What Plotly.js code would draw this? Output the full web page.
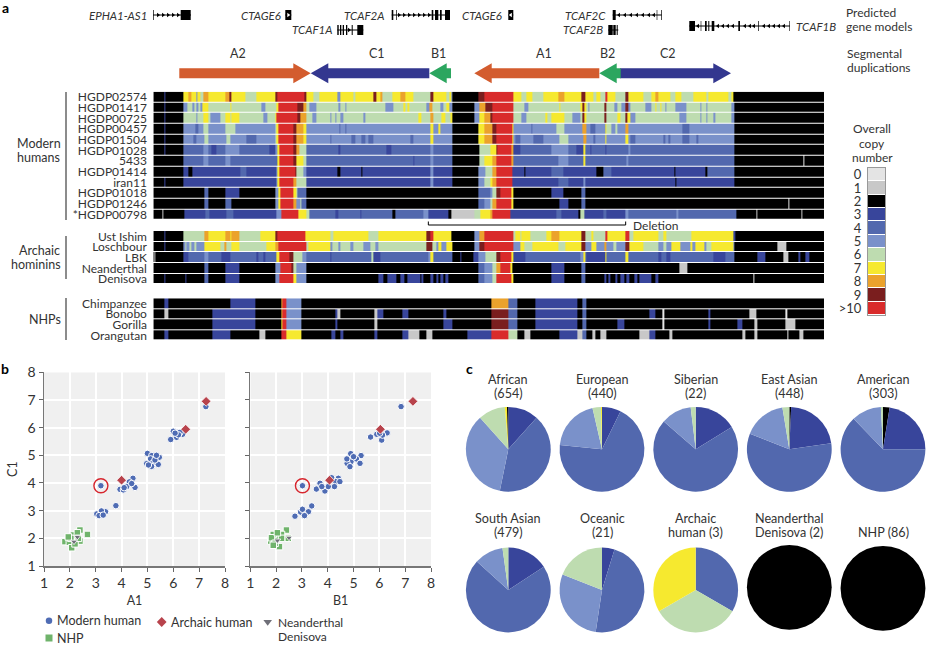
<!DOCTYPE html>
<html><head><meta charset="utf-8"><script src="https://cdn.plot.ly/plotly-3.0.1.min.js"></script>
<style>html,body{margin:0;padding:0;background:#fff}</style></head><body><div id="chart" style="width:926px;height:646px"></div>
<script>
const FONT='Lato, sans-serif', INK='#333333';
const palette=['#e4e4e4','#c8c8c8','#000000','#38459b','#5268ae','#7a91ca','#bedcb0','#f6e92f','#eba22c','#7a1e1e','#d92b2b'];
const copyLabels=['0','1','2','3','4','5','6','7','8','9','>10'];
const modernNames=['HGDP02574','HGDP01417','HGDP00725','HGDP00457','HGDP01504','HGDP01028','5433','HGDP01414','iran11','HGDP01018','HGDP01246','*HGDP00798'];
const archaicNames=['Ust Ishim','Loschbour','LBK','Neanderthal','Denisova'];
const nhpNames=['Chimpanzee','Bonobo','Gorilla','Orangutan'];
// copy-number runs: value, end position (left half of the locus, then right half)
const modernL=[
[2,492,3,495,2,550,7,565,8,575,7,588,5,592,7,602,6,610,8,625,7,675,8,688,9,693,7,737,6,770,7,825,9,832,10,912,9,918,7,940,6,957,7,1013,5,1020,7,1060,6,1065,7,1120,9,1128,7,1140,8,1148,6,1178,7,1200,8,1215,7,1240,6,1290,9,1300,7,1340,6,1348,7,1353,5,1356],
[2,492,3,495,2,550,5,562,6,578,5,583,6,590,5,595,6,600,5,607,7,625,6,690,7,693,6,785,5,795,6,828,7,835,10,893,9,910,8,918,6,928,5,950,6,1015,5,1020,6,1035,5,1038,6,1155,5,1180,6,1210,7,1215,6,1222,7,1227,6,1280,5,1288,8,1298,6,1320,5,1330,6,1340,7,1348,5,1356],
[2,492,3,495,2,550,6,590,5,593,6,610,7,625,6,632,5,660,6,675,7,690,6,693,7,718,6,790,5,802,6,825,7,830,10,893,9,900,8,918,6,938,5,950,6,990,5,993,6,1005,5,1008,6,1020,5,1030,6,1090,5,1095,6,1255,7,1265,6,1290,8,1300,6,1325,7,1337,6,1350,7,1356],
[2,492,3,495,2,550,5,585,4,595,5,610,6,625,5,675,6,705,5,825,6,830,7,835,10,880,9,890,8,910,7,918,5,1018,4,1022,5,1035,4,1038,5,1290,7,1300,5,1315,7,1320,5,1356],
[2,492,3,495,2,550,5,580,4,590,5,612,6,625,5,680,6,692,5,740,4,768,5,825,6,830,7,835,10,880,9,890,8,910,7,918,5,990,4,993,5,1055,4,1065,5,1085,4,1095,5,1105,4,1120,5,1230,4,1240,5,1290,7,1300,5,1356],
[2,492,3,495,2,550,4,610,5,625,4,635,3,650,4,675,5,718,4,808,3,825,5,832,7,838,10,880,9,888,8,898,6,918,4,1015,3,1022,4,1160,3,1175,4,1290,5,1300,4,1356],
[2,550,4,610,5,625,4,675,5,692,4,832,7,838,10,880,9,890,7,910,6,918,4,1240,3,1243,4,1290,5,1300,4,1356],
[2,550,3,565,2,577,3,720,4,740,3,830,5,833,7,838,10,885,9,890,6,910,5,918,3,1012,2,1020,3,1085,2,1088,3,1290,5,1300,3,1356],
[2,492,3,495,2,550,3,830,5,833,7,838,10,880,8,890,6,918,3,1290,5,1300,3,1356],
[2,612,4,625,2,677,3,718,2,825,5,835,7,840,10,880,7,888,6,893,4,918,2,1365],
[2,612,4,625,2,677,4,695,2,825,5,835,7,840,10,880,8,888,5,900,6,905,4,918,2,1356],
[2,488,1,491,2,552,3,615,4,628,3,680,4,700,3,830,5,843,10,895,7,918,6,928,4,1005,3,1015,4,1080,3,1085,4,1178,2,1185,4,1270,5,1285,3,1345,2,1355,1,1356]];
const modernR=[
[2,85,9,102,10,190,7,215,6,230,7,248,6,280,7,325,8,342,7,395,9,407,7,430,6,440,7,450,6,465,10,471,7,495,6,525,9,535,7,580,6,605,7,615,8,625,7,660,6,675,7,695,6,730,7,770,6,775,7,835,6,845,7,851,2,1122],
[2,72,5,88,8,105,9,128,10,190,6,222,5,235,6,328,7,331,6,390,7,398,9,404,7,408,6,415,5,419,6,462,9,470,6,492,5,502,6,515,5,525,9,535,5,540,6,585,5,605,6,615,7,618,6,632,7,635,6,647,5,650,6,660,5,662,6,675,5,710,6,752,5,755,6,768,5,771,6,845,5,852,2,1122],
[2,72,5,88,7,102,8,120,9,128,10,190,6,215,5,230,6,287,7,292,6,303,7,342,6,368,5,390,6,398,9,404,7,408,6,462,9,470,6,503,7,510,6,525,9,532,7,540,5,555,6,688,5,710,6,752,5,755,6,768,5,771,6,790,5,797,6,845,5,852,2,1122],
[2,85,7,102,8,128,9,138,10,188,7,190,5,245,4,248,5,318,6,342,5,398,8,408,5,422,4,435,5,465,7,470,6,485,5,495,6,502,5,525,8,535,5,697,4,717,5,852,2,1122],
[2,85,7,102,8,128,9,138,10,188,7,190,5,195,4,210,5,250,4,280,5,327,6,355,5,400,8,408,5,430,4,435,5,465,7,470,5,525,7,535,5,540,4,555,5,640,4,645,5,655,4,660,5,697,4,717,5,740,4,745,5,852,2,1122],
[2,88,6,120,7,138,9,141,10,185,8,190,3,212,4,305,5,355,4,380,3,400,7,406,4,420,3,425,4,465,3,470,4,535,5,540,4,852,2,1122],
[2,88,6,102,7,128,8,138,10,185,8,190,4,325,5,355,4,400,7,406,4,530,5,535,4,852,2,1060,0,1064,2,1122],
[2,85,5,105,6,128,8,138,10,188,3,222,2,225,3,305,4,340,3,440,2,460,4,485,3,672,2,675,3,765,2,772,4,852,2,1122],
[2,36,0,38,2,85,5,102,6,120,7,128,8,138,10,188,3,325,4,355,3,400,5,406,3,675,2,680,3,852,2,1122],
[0,17,2,85,4,120,5,128,6,138,9,150,10,185,7,190,2,305,3,340,2,395,4,405,2,1122],
[2,85,4,102,5,120,6,128,8,138,10,185,7,190,2,327,3,355,2,395,4,405,2,1015,0,1018,2,1122],
[1,72,6,92,7,120,8,128,10,180,3,320,4,335,3,385,2,392,6,403,3,460,4,470,3,525,5,535,4,680,5,685,4,860,2,918,1,922,2,1053,1,1056,2,1122]];
const archaicL=[
[2,492,3,495,2,550,6,612,8,625,7,675,8,692,7,695,8,718,6,780,7,825,9,832,10,915,7,990,6,1000,7,1105,6,1135,7,1280,9,1290,10,1300,7,1355],
[2,492,3,495,2,550,5,555,6,560,5,567,6,575,5,582,6,590,5,612,7,660,6,672,8,680,6,693,7,718,6,800,7,825,8,835,10,918,6,925,7,990,5,997,6,1015,5,1022,6,1050,5,1060,6,1090,5,1110,6,1125,5,1135,6,1280,9,1298,6,1310,5,1316,7,1325,5,1340,7,1356],
[2,462,1,465,2,550,3,565,4,612,5,625,4,663,3,690,4,770,3,775,4,790,3,795,4,830,7,838,10,868,9,880,6,908,5,918,4,990,3,995,4,1115,6,1120,3,1140,4,1285,5,1292,7,1300,4,1356],
[2,612,4,625,2,677,3,718,2,825,5,840,10,875,9,880,6,890,5,918,2,1356],
[2,492,3,495,2,555,3,560,2,612,4,625,2,677,3,718,2,825,5,838,10,880,7,888,5,918,2,1135,3,1150,2,1162,3,1190,2,1200,3,1212,2,1222,3,1260,2,1265,3,1270,2,1290,3,1300,2,1310,3,1315,2,1320,3,1330,2,1335,3,1345,2,1356]];
const archaicR=[
[2,72,5,88,8,102,10,190,6,195,7,210,6,215,7,240,6,288,7,303,8,327,7,395,9,407,6,425,7,430,6,465,10,472,7,525,10,538,6,550,7,625,6,640,7,650,6,725,7,850,3,855,2,1122],
[2,72,5,88,9,102,10,190,5,210,7,222,6,248,7,325,6,345,7,395,9,405,5,425,7,440,5,462,8,470,5,490,6,500,5,525,9,537,7,580,6,625,5,640,6,650,5,665,7,690,5,720,7,728,5,735,7,762,5,770,6,785,7,850,5,853,2,982,1,1008,2,1122],
[2,30,3,35,2,70,3,85,5,105,6,138,9,152,10,185,7,190,3,225,4,390,5,400,7,405,4,410,3,465,7,470,4,525,7,535,4,625,3,635,4,650,3,660,4,790,3,825,4,852,2,922,3,945,2,1000,1,1015,2,1045,3,1050,2,1065,3,1078,2,1122],
[2,85,4,102,5,128,6,138,8,152,10,180,7,188,2,303,3,342,2,395,4,405,2,688,1,712,2,1122],
[2,85,4,102,5,128,6,138,10,185,7,190,2,303,3,342,2,395,4,405,2,462,3,470,2,476,3,482,2,495,3,503,2,510,3,522,2,530,3,538,2,552,3,562,2,568,3,605,2,615,3,625,2,910,0,913,2,1122]];
const nhpL=[
[2,492,3,505,2,692,3,767,2,843,8,848,10,858,5,903,2,1356],
[2,492,1,505,2,637,3,767,2,843,8,848,10,858,5,903,2,1005,3,1012,1,1022,2,1122,1,1133,3,1150,2,1207,3,1226,2,1330,3,1340,2,1356],
[2,637,3,767,2,843,7,848,10,858,5,903,2,1005,3,1012,2,1122,1,1133,2,1330,3,1358],
[2,492,3,505,2,637,3,692,2,777,1,795,2,843,10,858,7,903,2,995,3,1005,2,1022,3,1030,2,1122,3,1132,2,1207,3,1226,1,1258,2,1278,1,1297,2,1356]];
const nhpR=[
[2,125,8,175,4,203,2,255,3,382,2,397,4,410,2,1122],
[2,125,9,175,4,203,2,255,3,382,2,397,4,410,2,598,3,617,2,637,0,642,2,775,3,782,2,898,1,920,2,1007,0,1012,2,1122],
[2,125,9,175,4,203,2,255,3,382,2,397,4,410,2,503,3,523,2,637,0,642,2,775,3,782,2,863,3,877,2,912,1,922,2,1007,1,1035,2,1122],
[2,53,3,125,10,175,6,203,2,223,1,240,2,327,3,382,1,397,4,410,2,427,1,435,2,450,1,468,2,567,1,597,3,617,2,657,1,668,2,878,1,885,2,912,1,922,2,1012,0,1015,2,1048,1,1060,2,1122]];
const locusStart=460, locusEnd=2472, rightShift=1350;
const deletionSpan=[1285,1877];
// gene models
const geneNames=['EPHA1-AS1','CTAGE6','TCAF1A','TCAF2A','CTAGE6','TCAF2C','TCAF2B','TCAF1B'];
const geneLevel=[15,15,30,15,15,15,30,26];
const geneSpans=[[153,191],[285.3,291.3],[337.3,363.3],[391.7,450],[508.3,513.3],[612.7,661.7],[608.3,618.3],[689.3,790]];
const geneExons=[[[153,153.7],[180.7,190.7]],[[285.3,291.3]],[[337.3,338.7],[340,341.3],[342.7,344],[346,347.3],[351.7,352.7],[357.3,363.3]],[[391.7,393.3],[396,396.7],[431.7,433.3],[435,438.3],[440,441.7],[445,450]],[[508.3,513.3]],[[612.7,615.7],[656.7,657.3],[661,661.7]],[[608.3,612.7],[613.3,615.7],[616.7,617.7]],[[689.3,695],[700.7,701.3],[705,706.7],[708.3,709.3],[711.7,714.3],[738.3,740],[758.3,759],[789.4,790]]];
const geneChevrons=[[158,163,168,173,178],[288.3],[349],[399,404,409,414,419,424,429],[510.8],[619,625,631,637,643,649,654],[],[698,718,723,728,733,745,750,754,764,769,774,779,784]];
const geneLeft=[false,false,false,false,true,true,true,true];
const geneChevronColor=['#000','#fff','#000','#000','#fff','#000','#000','#000'];
const geneLabelX=[148.3,281.7,333.3,385,503.3,606.7,604,795];
// segmental duplications
const segNames=['A2','C1','B1','A1','C2','B2'];
const segTail=[179.3,429.3,451,599.3,620,620.7];
const segTip=[310.7,310.7,429.3,474.3,731,599.3];
const segHead=[293.3,328.3,446.7,491.7,713.3,616.7];
const segColors=['#d35c2e','#33378f','#2ba65f','#d35c2e','#33378f','#2ba65f'];
const segLabelX=[237.7,376.7,438.3,544.3,668.3,607.7];
// scatter panels: A1/B1 vs C1
const humanA1=[7.26,6.0,5.9,6.13,6.36,6.26,6.2,6.07,5.0,5.17,5.46,5.12,4.97,5.2,5.42,5.16,5.29,5.04,5.35,4.44,4.3,3.94,4.2,4.07,4.52,4.39,4.1,3.78,3.04,3.38,3.22,3.13,3.29];
const humanC1A=[6.76,5.87,5.57,5.65,5.76,5.83,5.74,5.8,5.07,4.99,4.93,4.87,4.7,4.71,4.67,4.6,4.83,4.65,5.0,4.17,4.04,3.77,3.87,3.75,3.84,3.98,3.83,3.18,2.88,2.96,2.99,2.82,2.84];
const humanB1=[6.84,5.66,6.09,6.3,6.12,5.9,6.01,5.29,5.11,4.9,4.75,4.89,4.86,5.25,5.0,4.74,4.41,4.31,4.15,4.26,3.56,3.83,3.7,3.89,4.02,4.47,3.77,3.38,3.25,2.95,2.73,3.02,3.1];
const humanC1B=[6.76,5.66,5.55,5.81,5.73,5.76,5.8,4.99,4.87,4.77,4.71,5.06,4.59,4.71,4.95,4.87,4.17,4.05,4.19,3.87,3.78,3.81,3.99,3.71,3.87,4.05,3.87,3.17,2.96,2.95,2.8,3.05,2.82];
const ringA1=[3.2], ringB1=[3.02], ringC1=[3.9];
const archaicA1=[7.27,6.48,4.0], archaicB1=[7.3,6.04,4.07], archaicC1=[6.95,5.94,4.1];
const neaA1=[2.29,2.16], neaC1A=[2.05,1.88], neaB1=[2.05,2.5], neaC1B=[1.92,2.02];
const nhpA1=[2.39,2.68,1.81,1.98,2.39,2.07,2.14,2.04,2.29,1.94,2.2,2.33];
const nhpC1A=[2.3,2.14,1.88,1.86,1.9,1.66,2.12,2.0,2.2,2.05,1.8,2.0];
const nhpB1=[2.4,1.79,2.02,2.21,1.89,1.82,2.13,1.96,2.47,2.21,1.89,2.05];
const nhpC1B=[2.3,1.9,2.06,2.14,2.14,2.02,1.7,1.82,2.0,2.0,1.75,2.2];
// pies
const pieTitles=[['African','(654)'],['European','(440)'],['Siberian','(22)'],['East Asian','(448)'],['American','(303)'],['South Asian','(479)'],['Oceanic','(21)'],['Archaic','human (3)'],['Neanderthal','Denisova (2)'],['NHP (86)']];
const pieCopies=[[3,4,5,6,7,2],[3,4,5,6,7],[3,4,5,6],[2,3,4,5,6],[2,3,4,5,6],[3,4,5,6],[3,4,5,6],[4,6,7],[2],[2]];
const pieShares=[[11.6,41.6,35.2,10.3,0.8,0.5],[7.2,69.4,19.8,3.2,0.4],[16.2,70.3,11.7,1.9],[0.7,22,58.3,16.4,2.6],[2.5,22.5,62.8,11.4,0.8],[15.8,70.9,11.1,2.2],[1,10,6,4],[1,1,1],[2],[86]];
const pieCenterX=[508.3,602,695.7,789.3,883,508.3,602,695.7,789.3,883];
const pieCenterY=[449.3,449.3,449.3,449.3,449.3,590,590,590,587.3,588.3];
const pieRadius=42.4;

const W=926,H=646, fx=p=>p/W, fy=p=>1-p/H;
const U=[];for(let i=0;i<palette.length;i++){U.push([i/palette.length,palette[i]],[(i+1)/palette.length,palette[i]]);}
function heat(names,L,R,xa,ya){
  const rows=names.map((_,i)=>{const a=[];let prev=locusStart;
    for(let k=0;k<L[i].length;k+=2){a.push([L[i][k],prev,L[i][k+1]]);prev=L[i][k+1];}
    for(let k=0;k<R[i].length;k+=2){const e=R[i][k+1]+rightShift;if(e>prev){a.push([R[i][k],prev,e]);prev=e;}}
    return a;});
  const s=new Set([locusStart,locusEnd]);rows.forEach(r=>r.forEach(c=>{s.add(c[1]);s.add(c[2]);}));
  const edges=[...s].sort((a,b)=>a-b);
  const z=rows.map(r=>edges.slice(0,-1).map((e,j)=>{const m=(e+edges[j+1])/2;const c=r.find(q=>m>=q[1]&&m<q[2]);return c?c[0]:2;}));
  return {type:'heatmap',x:edges,y:names.map((_,i)=>i),z:z,colorscale:U,zmin:-.5,zmax:10.5,showscale:false,ygap:1,xaxis:xa,yaxis:ya,hoverinfo:'skip'};
}
const data=[heat(modernNames,modernL,modernR,'x','y'),heat(archaicNames,archaicL,archaicR,'x','y2'),heat(nhpNames,nhpL,nhpR,'x','y3')];
// colour key
data.push({type:'heatmap',x:[0,1],y:copyLabels.map((_,i)=>i),z:copyLabels.map((_,i)=>[i]),colorscale:U,zmin:-.5,zmax:10.5,showscale:false,ygap:1,xaxis:'x2',yaxis:'y4',hoverinfo:'skip'});
// gene models
const lx=[],ly=[],ex=[],ey=[];
geneNames.forEach((n,i)=>{const y=geneLevel[i];lx.push(geneSpans[i][0],geneSpans[i][1],null);ly.push(y,y,null);
  geneExons[i].forEach(e=>{ex.push(e[0],e[1],e[1],e[0],e[0],null);ey.push(y-5,y-5,y+5,y+5,y-5,null);});});
data.push({type:'scatter',mode:'lines',x:lx,y:ly,line:{color:'#000',width:1},xaxis:'x3',yaxis:'y5',hoverinfo:'skip'});
data.push({type:'scatter',mode:'lines',x:ex,y:ey,fill:'toself',fillcolor:'#000',line:{width:0,color:'#000'},xaxis:'x3',yaxis:'y5',hoverinfo:'skip'});
geneNames.forEach((n,i)=>{if(geneChevrons[i].length)data.push({type:'scatter',mode:'markers',x:geneChevrons[i],y:geneChevrons[i].map(()=>geneLevel[i]),
  marker:{symbol:geneLeft[i]?'triangle-left':'triangle-right',size:4,color:geneChevronColor[i]},xaxis:'x3',yaxis:'y5',hoverinfo:'skip'});});
// segmental duplication arrows
segNames.forEach((n,i)=>{const c=73.3,t=segTail[i],p=segTip[i],h=segHead[i];
  data.push({type:'scatter',mode:'lines',x:[t,h,h,p,h,h,t,t],y:[c-5,c-5,c-10,c,c+10,c+5,c+5,c-5],fill:'toself',fillcolor:segColors[i],line:{width:0,color:segColors[i]},xaxis:'x3',yaxis:'y5',hoverinfo:'skip'});});
// scatter panels
function pts(x,y,xa,ya,sym,size,col,lw){return {type:'scatter',mode:'markers',x:x,y:y,xaxis:xa,yaxis:ya,hoverinfo:'skip',marker:{symbol:sym,size:size,color:col,line:{color:'#fff',width:lw}}};}
const BLUE='#4f6cb4',GREEN='#6fb36b',RED='#b8434c',GREY='#6f6f78';
[['x4','y6',nhpA1,nhpC1A,neaA1,neaC1A,humanA1,humanC1A,ringA1,archaicA1],['x5','y7',nhpB1,nhpC1B,neaB1,neaC1B,humanB1,humanC1B,ringB1,archaicB1]].forEach(p=>{
  data.push(pts(p[2],p[3],p[0],p[1],'square',6.5,GREEN,1));
  data.push(pts(p[4],p[5],p[0],p[1],'triangle-down',6,GREY,.8));
  data.push(pts(p[6],p[7],p[0],p[1],'circle',6.5,BLUE,1));
  data.push(pts(p[8],ringC1,p[0],p[1],'circle',6.5,BLUE,1));
  data.push({type:'scatter',mode:'markers',x:p[8],y:ringC1,xaxis:p[0],yaxis:p[1],hoverinfo:'skip',marker:{symbol:'circle-open',size:14,color:'#d7262e',line:{width:1.4,color:'#d7262e'}}});
  data.push(pts(p[9],archaicC1,p[0],p[1],'diamond',7.5,RED,.8));
});
// legend keys for panel b
[[49,620.7,'circle',BLUE,6.5],[49,638,'square',GREEN,7],[161.7,622,'diamond',RED,7.5],[267.7,622,'triangle-down',GREY,7.5]].forEach(k=>
  data.push({type:'scatter',mode:'markers',x:[k[0]],y:[k[1]],xaxis:'x3',yaxis:'y5',hoverinfo:'skip',marker:{symbol:k[2],color:k[3],size:k[4]}}));
// pies
pieTitles.forEach((t,i)=>data.push({type:'pie',values:pieShares[i],labels:pieCopies[i].map(c=>copyLabels[c]),sort:false,direction:'clockwise',rotation:0,textinfo:'none',hoverinfo:'skip',
  marker:{colors:pieCopies[i].map(c=>palette[c]),line:{width:0}},
  domain:{x:[fx(pieCenterX[i]-pieRadius),fx(pieCenterX[i]+pieRadius)],y:[fy(pieCenterY[i]+pieRadius),fy(pieCenterY[i]-pieRadius)]}}));

function note(text,x,y,o){const sz=(o&&o.size)||12.5;const q=Object.assign({},o||{});delete q.size;return Object.assign({text:text,x:fx(x),y:fy(y),xref:'paper',yref:'paper',showarrow:false,xanchor:'center',yanchor:'middle',align:'center',font:{family:FONT,size:sz,color:INK},borderpad:0},q);}
const ann=[];
const letter={font:{family:FONT,size:14,color:'#000'}};
ann.push(note('<b>a</b>',5,7,letter),note('<b>b</b>',5,368,letter),note('<b>c</b>',469,368,letter));
geneNames.forEach((n,i)=>ann.push(note('<i>'+n+'</i>',geneLabelX[i],geneLevel[i],{xanchor:i==7?'left':'right',size:11.5})));
ann.push(note('Predicted',845,12.5,{xanchor:'left',size:12}),note('gene models',845,26.5,{xanchor:'left',size:12}),note('Segmental',846,53.5,{xanchor:'left',size:12}),note('duplications',846,67.5,{xanchor:'left',size:12}));
segNames.forEach((n,i)=>ann.push(note(n,segLabelX[i],53.5)));
ann.push(note('Modern',38.5,143),note('humans',38.5,157),note('Archaic',39.5,250.5),note('hominins',35.5,264.5),note('NHPs',45,319.5),note('Deletion',632,225.5,{xanchor:'left',size:12}));
ann.push(note('Overall',872,129,{size:12}),note('copy',872,143,{size:12}),note('number',872,157,{size:12}));
ann.push(note('Modern human',56,620.7,{xanchor:'left'}),note('NHP',56,638,{xanchor:'left'}),note('Archaic human',170,622,{xanchor:'left'}),note('Neanderthal',276.7,622,{xanchor:'left',size:12}),note('Denisova',276.7,636.7,{xanchor:'left',size:12}));
pieTitles.forEach((t,i)=>{const base=i<5?379:518;
  if(t.length==2){ann.push(note(t[0],pieCenterX[i],base,{size:12.6}),note(t[1],pieCenterX[i],base+14.5,{size:12.6}));}
  else{ann.push(note(t[0],pieCenterX[i],base+14.5,{size:12.6}));}});

const shapes=[];
[[92,220],[236,279],[298,340]].forEach(s=>shapes.push({type:'line',xref:'paper',yref:'paper',x0:fx(66),x1:fx(66),y0:fy(s[0]),y1:fy(s[1]),line:{color:'#666',width:1.5}}));
shapes.push({type:'path',xref:'x',yref:'paper',path:`M${deletionSpan[0]},${fy(221.5)} L${deletionSpan[0]},${fy(225)} L${deletionSpan[1]},${fy(225)} L${deletionSpan[1]},${fy(221.5)}`,line:{color:'#000',width:1}});
[['x4','y6'],['x5','y7']].forEach(a=>shapes.push({type:'rect',xref:a[0],yref:a[1],x0:1,x1:8,y0:1,y1:8,fillcolor:'#f0f0f0',line:{width:0},layer:'below'}));

const hidden={visible:false,fixedrange:true};
function rowAxis(names,top,bottom){return {domain:[fy(bottom),fy(top)],anchor:'x',range:[names.length-.5,-.5],tickmode:'array',tickvals:names.map((_,i)=>i),ticktext:names,ticks:'outside',ticklen:3,tickcolor:'rgba(0,0,0,0)',showgrid:false,zeroline:false,showline:false,tickfont:{family:FONT,size:12,color:INK},fixedrange:true};}
function scatterAxis(dom,anchor,title,labels,vertical){return {domain:dom,anchor:anchor,range:[1,8],tickmode:'array',tickvals:[1,2,3,4,5,6,7,8],showticklabels:labels,ticks:'outside',ticklen:4,tickwidth:1,tickcolor:'#666',showline:true,linecolor:'#777',linewidth:1.5,gridcolor:'#fff',gridwidth:2,zeroline:false,fixedrange:true,tickfont:{family:FONT,size:14,color:INK},title:title?{text:title,font:{family:FONT,size:12.5,color:INK},standoff:vertical?7:6}:undefined};}
const layout={width:W,height:H,margin:{l:0,r:0,t:0,b:0,pad:0},autosize:false,showlegend:false,paper_bgcolor:'#fff',plot_bgcolor:'rgba(0,0,0,0)',font:{family:FONT,color:INK},
  annotations:ann,shapes:shapes,
  xaxis:Object.assign({domain:[fx(locusStart/3),fx(locusEnd/3)],range:[locusStart,locusEnd],anchor:'y'},hidden),
  yaxis:rowAxis(modernNames,91.7,220),yaxis2:rowAxis(archaicNames,231,284.3),yaxis3:rowAxis(nhpNames,298.3,340.7),
  xaxis2:Object.assign({domain:[fx(868),fx(885)],range:[0,1],anchor:'y4'},{showticklabels:false,ticks:'',showgrid:false,zeroline:false,showline:true,mirror:true,linecolor:'#999',linewidth:1,fixedrange:true}),
  yaxis4:{domain:[fy(315),fy(168)],anchor:'x2',range:[10.5,-.5],tickmode:'array',tickvals:copyLabels.map((_,i)=>i),ticktext:copyLabels,ticks:'outside',ticklen:3,tickcolor:'rgba(0,0,0,0)',showgrid:false,zeroline:false,showline:true,mirror:true,linecolor:'#999',linewidth:1,tickfont:{family:FONT,size:13,color:INK},fixedrange:true},
  xaxis3:Object.assign({domain:[0,1],range:[0,W],anchor:'y5'},hidden),
  yaxis5:Object.assign({domain:[0,1],range:[H,0],anchor:'x3'},hidden),
  xaxis4:scatterAxis([fx(44),fx(225)],'y6','A1',true),
  yaxis6:scatterAxis([fy(566),fy(372.3)],'x4','C1',true,true),
  xaxis5:scatterAxis([fx(250.3),fx(431)],'y7','B1',true),
  yaxis7:scatterAxis([fy(566),fy(372.3)],'x5',null,false,true)
};
Plotly.newPlot('chart',data,layout,{displayModeBar:false,staticPlot:true});
</script></body></html>
